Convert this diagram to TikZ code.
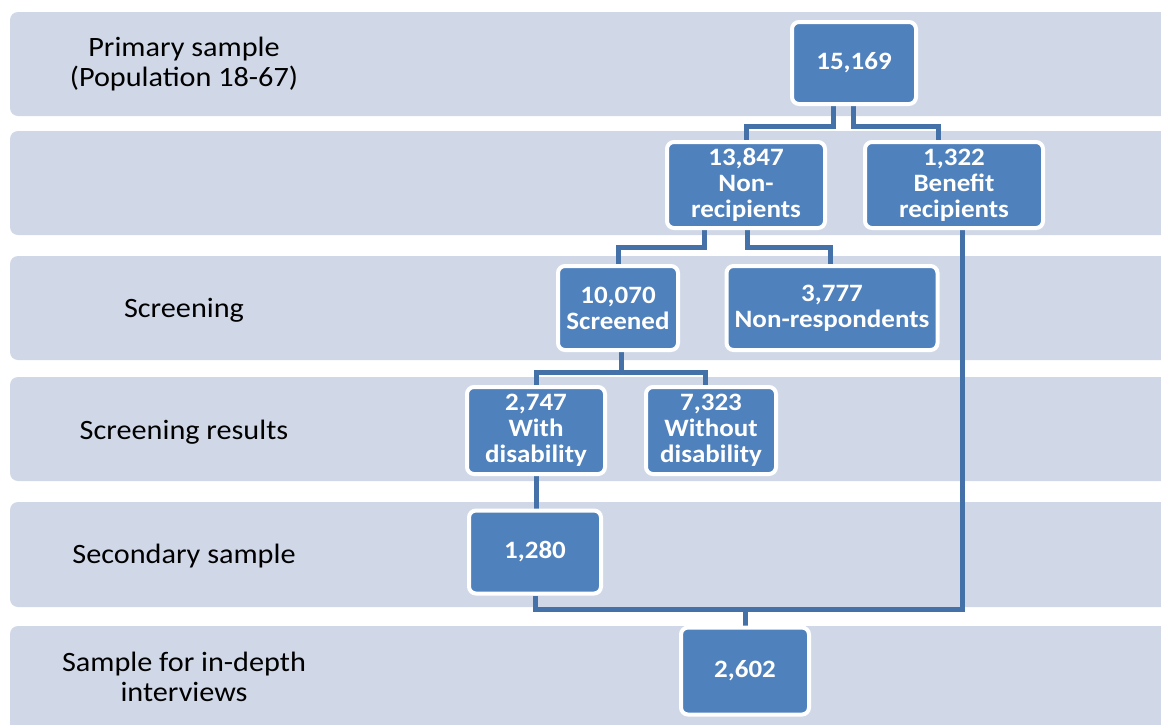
\documentclass[tikz,border=0pt]{standalone}
\usepackage{fontspec}
\setmainfont{Carlito}[FakeStretch=1.08]
\usetikzlibrary{calc}
\definecolor{bandcol}{RGB}{208,216,232}
\definecolor{boxblue}{RGB}{79,129,189}
\definecolor{linecol}{RGB}{68,114,168}
\pgfdeclarelayer{bands}
\pgfdeclarelayer{lines}
\pgfsetlayers{bands,lines,main}
\begin{document}
\begin{tikzpicture}[x=1pt,y=-1pt,
  band/.style={fill=bandcol, rounded corners=8pt},
  lbl/.style={align=center, font=\fontsize{28}{30}\selectfont, text=black, inner sep=0pt},
  bx/.style={draw=white, line width=4pt, fill=boxblue, rounded corners=7pt, inner sep=0pt,
    text=white, align=center, font=\bfseries\fontsize{25}{26}\selectfont},
  conn/.style={draw=linecol, line width=5pt}]
\useasboundingbox (0,0) rectangle (1161,724);
\begin{pgfonlayer}{bands}
\fill[band] (10,12) rectangle (1180,116);
\fill[band] (10,131) rectangle (1180,235);
\fill[band] (10,256) rectangle (1180,360);
\fill[band] (10,377) rectangle (1180,481);
\fill[band] (10,502) rectangle (1180,607);
\fill[band] (10,626) rectangle (1180,740);
\end{pgfonlayer}
\node[lbl] (L1) at (184,64) {Primary sample\\(Population 18-67)};
\node[lbl] (L3) at (184,310) {Screening};
\node[lbl] (L4) at (184,432) {Screening results};
\node[lbl] (L5) at (184,556) {Secondary sample};
\node[lbl] (L6) at (184,677) {Sample for in-depth\\interviews};

\node[bx, minimum width=124, minimum height=82] (A) at (854,63) {15,169};
\node[bx, minimum width=158, minimum height=86] (B) at (746,185) {\raisebox{0pt}[0pt][0pt]{}13,847\\Non-\\recipients};
\node[bx, minimum width=178, minimum height=86] (C) at (954,185) {1,322\\Benefit\\recipients};
\node[bx, minimum width=120, minimum height=84] (D) at (618,308) {10,070\\Screened};
\node[bx, minimum width=211, minimum height=84] (E) at (832,308) {3,777\\Non-respondents};
\node[bx, minimum width=138, minimum height=87] (F) at (536,430.5) {2,747\\With\\disability};
\node[bx, minimum width=130, minimum height=87] (G) at (711,430.5) {7,323\\Without\\disability};
\node[bx, minimum width=132, minimum height=83] (H) at (535,552) {1,280};
\node[bx, minimum width=128, minimum height=87] (I) at (745,671) {2,602};

\begin{pgfonlayer}{lines}
\draw[conn] ([xshift=-21pt]A.south) -- ++(0,20) -| (B.north);
\draw[conn] ([xshift=-1pt]A.south) -- ++(0,20) -| ([xshift=-16pt]C.north);
\draw[conn] ([xshift=-42pt]B.south) -- ++(0,17) -| (D.north);
\draw[conn] ([xshift=1pt]B.south) -- ++(0,17) -| ([xshift=-2pt]E.north);
\draw[conn] ([xshift=3pt]D.south) -- ++(0,20) -| (F.north);
\draw[conn] ([xshift=3pt]D.south) -- ++(0,20) -| ([xshift=-6pt]G.north);
\draw[conn] (F.south) -- (F.south |- H.north);
\draw[conn] (H.south) |- ($(I.north)+(0,-16)$) -- (I.north);
\draw[conn] ([xshift=8pt]C.south) |- ($(I.north)+(0,-16)$);
\end{pgfonlayer}
\end{tikzpicture}
\end{document}
